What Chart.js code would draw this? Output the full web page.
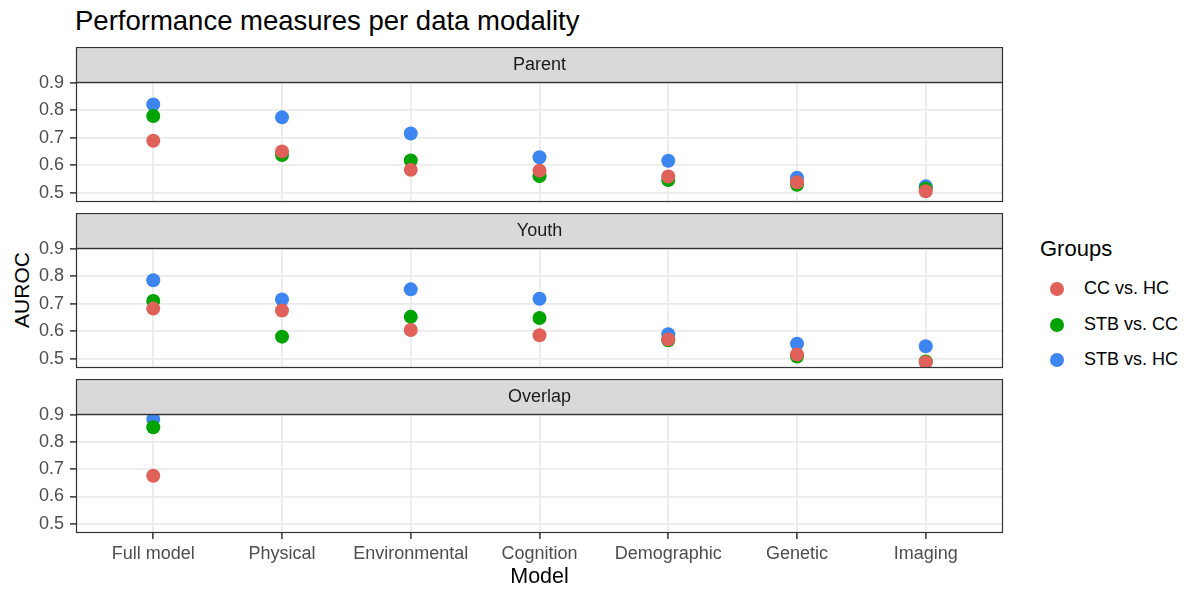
<!DOCTYPE html>
<html>
<head>
<meta charset="utf-8">
<script src="https://cdn.jsdelivr.net/npm/chart.js@4.4.1/dist/chart.umd.min.js"></script>
<style>
  body { margin: 0; background: #fff; font-family: "Liberation Sans", Arial, sans-serif; }
  #wrap { position: relative; width: 1192px; height: 590px; overflow: hidden; }
  canvas.panel { position: absolute; left: 0; }
  #title { position: absolute; left: 75px; top: 6px; font-size: 27.5px; line-height: 30px; color: #000; white-space: nowrap; }
  #ylab { position: absolute; left: -28px; top: 277px; width: 100px; text-align: center; font-size: 21px; line-height: 26px; color: #000; transform: rotate(-90deg); }
  #legend { position: absolute; left: 1040px; top: 235px; color: #000; }
  #legend .head { font-size: 22px; line-height: 28px; margin-bottom: 8px; }
  #legend .item { position: relative; height: 35.5px; font-size: 18px; line-height: 35.5px; padding-left: 44px; white-space: nowrap; }
  #legend .dot { position: absolute; left: 10px; top: 11px; width: 14px; height: 14px; border-radius: 50%; }
</style>
</head>
<body>
<div id="wrap">
  <div id="title">Performance measures per data modality</div>
  <div id="ylab">AUROC</div>
  <canvas id="parentChart" class="panel" width="1010" height="162" style="top:47px"></canvas>
  <canvas id="youthChart" class="panel" width="1010" height="162" style="top:213px"></canvas>
  <canvas id="overlapChart" class="panel" width="1010" height="211" style="top:379px"></canvas>
  <div id="legend"></div>
</div>
<script>
// categories and groups
const models = ['Full model', 'Physical', 'Environmental', 'Cognition', 'Demographic', 'Genetic', 'Imaging'];
const groups = ['CC vs. HC', 'STB vs. CC', 'STB vs. HC'];
const groupColors = ['#E0605A', '#00A300', '#3D85F0'];
const yTicks = [0.5, 0.6, 0.7, 0.8, 0.9];

// AUROC values, one entry per model
const parentCcHc  = [0.689, 0.650, 0.583, 0.580, 0.559, 0.538, 0.505];
const parentStbCc = [0.779, 0.637, 0.617, 0.560, 0.546, 0.529, 0.514];
const parentStbHc = [0.821, 0.774, 0.715, 0.629, 0.616, 0.554, 0.523];

const youthCcHc  = [0.682, 0.675, 0.604, 0.585, 0.570, 0.515, 0.487];
const youthStbCc = [0.710, 0.580, 0.652, 0.648, 0.567, 0.508, 0.490];
const youthStbHc = [0.785, 0.715, 0.752, 0.718, 0.589, 0.554, 0.545];

// only the full model was fitted on the overlap sample
const overlapCcHc  = [0.676];
const overlapStbCc = [0.854];
const overlapStbHc = [0.884];

const Y_MIN = 0.466, Y_MAX = 0.9025;
const STRIP_H = 35;

// strip label on top of each panel + panel border
const facetPlugin = {
  id: 'facet',
  afterDraw(chart, args, opts) {
    const ctx = chart.ctx;
    const a = chart.chartArea;
    ctx.save();
    ctx.fillStyle = '#D9D9D9';
    ctx.fillRect(a.left, a.top - STRIP_H, a.right - a.left, STRIP_H);
    ctx.strokeStyle = '#333333';
    ctx.lineWidth = 1.2;
    ctx.strokeRect(a.left + 0.5, a.top - STRIP_H + 0.5, a.right - a.left - 1, STRIP_H);
    ctx.strokeRect(a.left + 0.5, a.top + 0.5, a.right - a.left - 1, a.bottom - a.top - 1);
    ctx.fillStyle = '#1A1A1A';
    ctx.font = '18px "Liberation Sans", Arial, sans-serif';
    ctx.textAlign = 'center';
    ctx.textBaseline = 'middle';
    ctx.fillText(opts.label, (a.left + a.right) / 2, a.top - STRIP_H / 2 + 1);
    ctx.restore();
  }
};

function toPoints(values) {
  return values.map((v, i) => ({ x: i, y: v }));
}

function drawPanel(id, label, series, showX) {
  // major ticks plus the minor lines halfway between them
  const gridTicks = [];
  yTicks.forEach((v, i) => {
    gridTicks.push({ value: v, minor: false });
    if (i < yTicks.length - 1) gridTicks.push({ value: (v + yTicks[i + 1]) / 2, minor: true });
  });

  new Chart(document.getElementById(id), {
    type: 'scatter',
    data: {
      datasets: series.map((vals, k) => ({
        label: groups[k],
        data: toPoints(vals),
        backgroundColor: groupColors[k],
        borderWidth: 0,
        pointRadius: 7,
        pointHoverRadius: 7
      }))
    },
    options: {
      responsive: false,
      animation: false,
      layout: { padding: { top: STRIP_H, right: 6, bottom: 1, left: 0 } },
      plugins: {
        legend: { display: false },
        tooltip: { enabled: false },
        facet: { label: label }
      },
      scales: {
        x: {
          type: 'linear',
          min: -0.6,
          max: models.length - 1 + 0.6,
          afterBuildTicks: s => { s.ticks = models.map((m, i) => ({ value: i })); },
          afterFit: s => { s.height = showX ? 56 : 0; s.paddingLeft = 0; s.paddingRight = 0; },
          ticks: {
            display: showX,
            autoSkip: false,
            maxRotation: 0,
            padding: 4,
            color: '#4D4D4D',
            font: { size: 18 },
            callback: v => models[v]
          },
          grid: { color: '#EBEBEB', lineWidth: 1.8, drawTicks: showX, tickLength: 6, tickColor: '#333333', tickWidth: 1.5 },
          border: { display: false },
          title: { display: showX, text: 'Model', color: '#000', font: { size: 21.5 }, padding: { top: 0, bottom: -1 } }
        },
        y: {
          min: Y_MIN,
          max: Y_MAX,
          afterBuildTicks: s => { s.ticks = gridTicks.map(t => ({ ...t })); },
          afterFit: s => { s.width = 76; s.paddingTop = 0; s.paddingBottom = 0; },
          ticks: {
            padding: 6,
            color: '#4D4D4D',
            font: { size: 18 },
            callback: (v, i, ticks) => ticks[i].minor ? '' : v.toFixed(1)
          },
          grid: {
            color: '#EBEBEB',
            lineWidth: c => c.tick && c.tick.minor ? 0.9 : 1.8,
            tickLength: 6,
            tickColor: c => c.tick && c.tick.minor ? 'rgba(0,0,0,0)' : '#333333',
            tickWidth: 1.5
          },
          border: { display: false }
        }
      }
    },
    plugins: [facetPlugin]
  });
}

Chart.defaults.font.family = '"Liberation Sans", Arial, sans-serif';

drawPanel('parentChart', 'Parent', [parentCcHc, parentStbCc, parentStbHc], false);
drawPanel('youthChart', 'Youth', [youthCcHc, youthStbCc, youthStbHc], false);
drawPanel('overlapChart', 'Overlap', [overlapCcHc, overlapStbCc, overlapStbHc], true);

// legend
const legend = document.getElementById('legend');
legend.innerHTML = '<div class="head">Groups</div>' + groups.map((g, k) => `
  <div class="item"><span class="dot" style="background:${groupColors[k]}"></span>${g}</div>
`).join('');
</script>
</body>
</html>
